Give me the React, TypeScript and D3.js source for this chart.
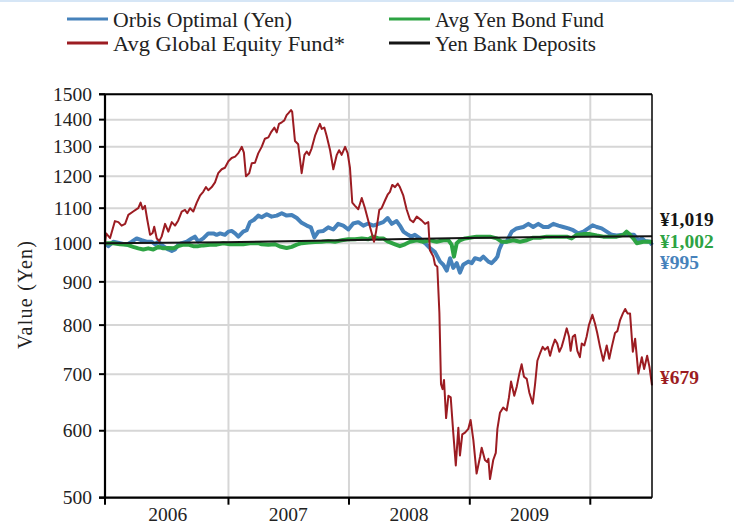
import React from "react";
import * as d3 from "d3";

// ---- data (week index since start, value in yen) ----
const orbisOptimal: [number, number][] = [
  [0,1000],[1.4,992],[3.6,1004],[6.5,1000],[9.4,996],[11.6,1004],[13.7,1013],[15.9,1008],[18,1004],[20.2,1004],
  [21.6,997],[23.1,1004],[25.2,992],[27.4,983],[28.9,979],[30.3,983],[31.7,996],[33.2,1000],[35.4,1004],[37.5,1013],
  [38.9,1018],[40.4,1004],[42.5,1013],[44.7,1027],[46.9,1027],[48.3,1023],[49.8,1027],[51.9,1023],[53.4,1032],[54.8,1034],
  [56.3,1027],[57.7,1018],[59.8,1032],[61.3,1036],[62.7,1059],[64.5,1066],[66.3,1078],[67.8,1073],[70,1082],[72.1,1075],
  [74.3,1078],[76.5,1085],[78.6,1078],[80.8,1080],[83,1071],[85.1,1057],[87.3,1049],[89.1,1044],[90.6,1016],[92.3,1032],
  [94.5,1034],[96.6,1044],[98.8,1038],[100.9,1054],[103.1,1049],[105.3,1038],[107.4,1055],[109.6,1059],[111.8,1049],[113.9,1055],
  [116.1,1049],[118.3,1054],[120.4,1059],[122.3,1071],[124.1,1054],[126.2,1062],[127.6,1049],[129.1,1032],[131.2,1023],[132.6,1018],
  [134.1,1023],[136.3,1013],[138.5,1000],[140.6,987],[142.8,976],[145,951],[146.4,943],[147.9,928],[149.3,960],[150.7,935],
  [152.2,947],[153.6,923],[155,943],[157.2,951],[158.7,947],[160.1,960],[162.3,956],[163.7,964],[165.9,951],[167.3,947],
  [168.8,956],[169.8,964],[170.6,983],[172.1,1004],[173.8,1004],[176,1032],[178.1,1041],[181,1045],[183.2,1054],[185.3,1045],
  [187.5,1054],[189.7,1045],[191.8,1045],[194,1054],[196.2,1049],[198.3,1045],[200.5,1041],[202.6,1036],[204.8,1027],[207,1032],
  [209.1,1041],[211,1050],[212.8,1045],[214.9,1041],[217.1,1032],[219.3,1023],[221.4,1021],[224.3,1023],[227.2,1023],[228.9,1023],
  [230.8,1008],[232.3,1013],[233.7,1006],[235.9,1004],[236.7,995],
];

const globalEquity: [number, number][] = [
  [0,1000],[0.5,1027],[2.2,1014],[4.3,1062],[5.8,1059],[7.2,1049],[8.7,1054],[10.1,1080],[12.2,1090],[13.7,1097],
  [14.4,1100],[15.4,1117],[16.3,1097],[17.3,1107],[18.3,1066],[19.5,1023],[20.6,1028],[21.3,1046],[22.4,1013],[23.5,1006],
  [24.5,1018],[26,1054],[27.4,1032],[28.9,1059],[30.3,1049],[31.7,1064],[33.2,1090],[34.6,1095],[35.6,1085],[36.8,1100],
  [38.2,1090],[39.7,1117],[41.1,1138],[42.5,1150],[43.7,1165],[44.7,1155],[46.2,1165],[47.6,1180],[49,1210],[50.5,1223],
  [51.9,1228],[53.4,1250],[54.8,1261],[56.3,1266],[57.7,1278],[59.2,1300],[60.1,1280],[61,1200],[62.4,1210],[63.5,1243],
  [64.9,1245],[66.3,1277],[67.8,1300],[69.2,1329],[70.7,1334],[71.8,1352],[73.3,1370],[74.3,1352],[75.3,1384],[76.5,1390],
  [77.6,1397],[78.6,1417],[79.3,1424],[80.5,1437],[81,1430],[82.2,1321],[83.6,1309],[85.1,1210],[86.3,1272],[87.3,1283],
  [88.3,1272],[89.4,1294],[90.9,1340],[92.3,1370],[93,1384],[93.8,1365],[94.9,1370],[95.9,1340],[97.4,1288],[98.8,1223],
  [100.3,1272],[101.3,1288],[102.4,1272],[103.9,1300],[105,1278],[106,1228],[107,1117],[108.2,1107],[109.6,1097],[111.1,1131],
  [112.5,1100],[113.9,1064],[115.4,1028],[116.4,1004],[117.3,1032],[118.7,1095],[119.7,1100],[121.2,1124],[122.3,1141],[123.3,1150],
  [124.3,1172],[125.5,1165],[126.7,1176],[127.6,1165],[129.1,1138],[130.5,1097],[132,1066],[133.4,1059],[134.9,1075],[137,1064],
  [138.5,1054],[139.9,1059],[140.6,981],[142.1,964],[142.8,943],[143.8,938],[144.7,827],[145.4,681],[146.1,672],[146.7,689],
  [147.6,621],[148.6,660],[149.6,657],[150.7,597],[151.8,546],[152.9,605],[153.6,561],[154.6,594],[155.8,597],[157.2,603],
  [158.2,618],[159.4,585],[160.8,534],[162.3,559],[163,573],[164.4,554],[165.4,551],[165.9,556],[166.6,526],[168,554],
  [169.1,565],[169.8,603],[170.9,630],[172.3,639],[173.8,634],[174.8,657],[175.7,686],[177.1,660],[178.2,677],[179.3,701],
  [180.3,719],[181.3,695],[182.5,691],[183.6,666],[185.1,646],[186.1,681],[187.1,726],[188.2,740],[189.4,754],[190.4,748],
  [191.6,754],[192.6,736],[193.6,754],[194.7,769],[195.7,761],[196.6,744],[197.6,754],[198.6,771],[199.8,793],[200.8,775],
  [201.5,746],[202.4,775],[203.4,779],[204.4,746],[205.5,733],[206.3,761],[207.4,757],[208.4,775],[209.4,800],[210.9,823],
  [212,804],[213,783],[214.2,754],[215.6,726],[217.1,757],[218.2,730],[219.3,754],[220.7,783],[221.7,787],[222.9,811],
  [224.1,826],[225.1,836],[226.1,826],[227.2,826],[228.4,744],[229.4,771],[230.8,701],[232.3,733],[233.3,710],[234.6,736],
  [235.6,714],[236.7,679],
];

const yenBond: [number, number][] = [
  [0,1000],[3.6,1000],[6.5,997],[9.4,996],[12.2,990],[14.4,986],[16.6,983],[18.7,986],[20.9,983],[23.1,990],
  [25.2,986],[27.4,987],[29.6,986],[31.7,992],[33.9,996],[36,996],[38.2,992],[40.4,992],[42.5,994],[45.4,996],
  [48.3,996],[51.2,1000],[54.1,997],[57,997],[59.8,997],[62.7,1000],[66.3,1000],[67.8,997],[70.7,996],[73.6,997],
  [75.7,991],[78.6,987],[80.8,990],[83,996],[85.1,1000],[88,1002],[90.9,1003],[93.8,1004],[96.6,1006],[99.5,1004],
  [102.4,1008],[105.3,1011],[108.2,1011],[111.1,1013],[113.9,1011],[116.1,1018],[118.3,1013],[120.4,1013],[122.6,1004],[125.5,997],
  [127.6,992],[129.8,997],[132,1004],[134.9,1008],[137.7,1004],[140.6,1008],[143.5,1004],[146.4,1008],[148.6,1008],[150,996],
  [151,964],[152.2,1000],[153.6,1008],[155.8,1013],[157.9,1015],[160.8,1018],[163.7,1018],[166.6,1018],[169.5,1013],[171.6,1004],
  [173.8,1004],[176.7,1008],[179.6,1004],[182.5,1008],[185.3,1015],[188.2,1015],[191.1,1018],[194,1018],[196.9,1018],[199.8,1018],
  [201.9,1013],[204.1,1023],[206.9,1025],[209.9,1025],[212.8,1021],[215.6,1018],[218.5,1018],[221.4,1018],[224.3,1023],[225.7,1032],
  [227.2,1023],[228.6,1013],[230.1,1000],[232.9,1004],[235.9,1004],[236.7,1002],
];

const bankDeposits: [number, number][] = [
  [0,1000],[26,1001],[52,1002.5],[78,1005],[104,1008],[130,1011.5],[156,1014],[182,1016],[208,1017.5],[236.7,1019],
];

const yTicks = [500, 600, 700, 800, 900, 1000, 1100, 1200, 1300, 1400, 1500];
const yearLabels = [2006, 2007, 2008, 2009];
const yearBoundaries = [2007, 2008, 2009, 2010];

const series = [
  { name: "Orbis Optimal (Yen)", data: orbisOptimal, color: "#4682bb", width: 4, end: "¥995", endDy: 24 },
  { name: "Avg Yen Bond Fund", data: yenBond, color: "#2da343", width: 4, end: "¥1,002", endDy: 5.6 },
  { name: "Yen Bank Deposits", data: bankDeposits, color: "#151515", width: 2, end: "¥1,019", endDy: -10 },
  { name: "Avg Global Equity Fund*", data: globalEquity, color: "#9c1c22", width: 2, end: "¥679", endDy: -1.7 },
];

const legendItems = [
  { name: "Orbis Optimal (Yen)", color: "#4682bb", col: 0, row: 0, len: 179 },
  { name: "Avg Global Equity Fund*", color: "#9c1c22", col: 0, row: 1, len: 232 },
  { name: "Avg Yen Bond Fund", color: "#2da343", col: 1, row: 0, len: 169 },
  { name: "Yen Bank Deposits", color: "#151515", col: 1, row: 1, len: 161 },
];

const startDate = new Date(2005, 11, 23);
const weekToDate = (w: number) => new Date(startDate.getTime() + w * 7 * 86400000);

const FONT = "'Liberation Serif', 'Times New Roman', serif";

export default function App() {
  const left = 105, right = 652, top = 94.3, bottom = 497.7;
  const x = d3.scaleTime().domain([startDate, weekToDate(236.7)]).range([left, right]);
  const y = d3.scaleLog().domain([500, 1500]).range([bottom, top]);
  const line = d3
    .line<[number, number]>()
    .x((d) => x(weekToDate(d[0])))
    .y((d) => y(d[1]))
    .curve(d3.curveLinear);

  const grid = "#d6d6d6";
  return (
    <svg width={734} height={525} style={{ position: "absolute", left: 0, top: 0, background: "#fff" }} fontFamily={FONT}>
      <rect x={0} y={0} width={734} height={525} fill="#fff" />
      <line x1={0} x2={734} y1={1} y2={1} stroke="#d6e6f6" strokeWidth={2} />
      {/* legend */}
      {legendItems.map((l) => {
        const lx = l.col === 0 ? 67 : 389;
        const ly = l.row === 0 ? 19 : 43;
        return (
          <g key={l.name}>
            <line x1={lx} x2={lx + 41} y1={ly} y2={ly} stroke={l.color} strokeWidth={3} />
            <text x={lx + 46} y={ly + 7.5} fontSize={21} fill="#222" textLength={l.len} lengthAdjust="spacingAndGlyphs">{l.name}</text>
          </g>
        );
      })}
      {/* horizontal grid */}
      {yTicks.map((t) => (
        <line key={"g" + t} x1={left} x2={right} y1={y(t)} y2={y(t)} stroke={grid} strokeWidth={2} />
      ))}
      {/* vertical grid */}
      {yearBoundaries.map((yr) => (
        <line key={"v" + yr} x1={x(new Date(yr, 0, 1))} x2={x(new Date(yr, 0, 1))} y1={top} y2={bottom} stroke={grid} strokeWidth={2} />
      ))}
      {/* series */}
      {series.map((s) => (
        <path key={s.name} d={line(s.data) || ""} fill="none" stroke={s.color} strokeWidth={s.width} strokeLinejoin="round" />
      ))}
      {/* frame */}
      <line x1={left - 6} x2={right} y1={top} y2={top} stroke="#000" strokeWidth={2} />
      <line x1={right} x2={right} y1={top} y2={bottom} stroke="#000" strokeWidth={1.5} />
      <line x1={left} x2={left} y1={top} y2={bottom + 1} stroke="#000" strokeWidth={2.2} />
      <line x1={left - 6} x2={right} y1={bottom} y2={bottom} stroke="#000" strokeWidth={2.2} />
      {/* y ticks */}
      {yTicks.map((t) => (
        <g key={"t" + t}>
          <line x1={left - 6} x2={left} y1={y(t)} y2={y(t)} stroke="#000" strokeWidth={2} />
          <text x={92} y={y(t)} dy="0.34em" textAnchor="end" fontSize={19.5} fill="#222">{t}</text>
        </g>
      ))}
      {/* x ticks */}
      {[left, ...yearBoundaries.map((yr) => x(new Date(yr, 0, 1)))].map((px, i) => (
        <line key={"xt" + i} x1={px} x2={px} y1={bottom} y2={bottom + 7} stroke="#000" strokeWidth={2} />
      ))}
      {yearLabels.map((yr) => (
        <text key={"yl" + yr} x={x(new Date(yr, 6, 1))} y={521} textAnchor="middle" fontSize={19.5} fill="#222">{yr}</text>
      ))}
      {/* axis title */}
      <text transform="translate(32,295) rotate(-90)" textAnchor="middle" fontSize={20} fill="#222" textLength={108} lengthAdjust="spacing">Value (Yen)</text>
      {/* end labels */}
      {series.map((s) => {
        const last = s.data[s.data.length - 1];
        return (
          <text key={"e" + s.name} x={660} y={y(last[1]) + s.endDy} fontSize={19.5} fontWeight="bold" fill={s.color}>{s.end}</text>
        );
      })}
    </svg>
  );
}
